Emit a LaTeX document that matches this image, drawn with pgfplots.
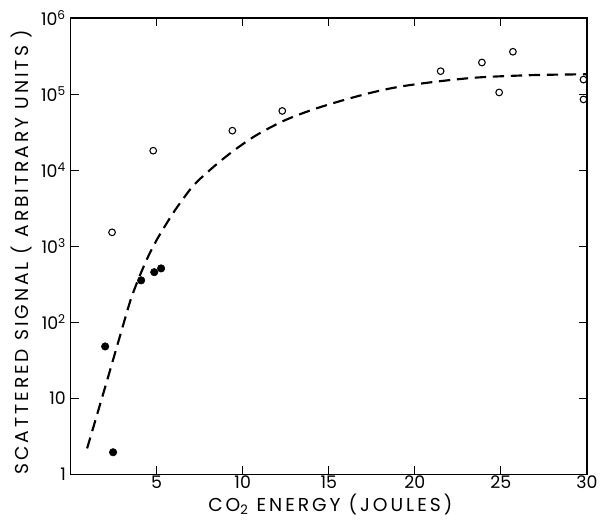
\documentclass[border=0pt]{standalone}
\usepackage{fontspec}
\setmainfont{Poppins}
\newfontfamily\labfont[LetterSpace=16]{Poppins}
\usepackage{pgfplots}
\pgfplotsset{compat=1.18}

\begin{document}
\begin{tikzpicture}
% page frame: the axis box sits at the origin
\useasboundingbox (-52.9pt,-34.5pt) rectangle (396.8pt,355.5pt);
\begin{axis}[
  scale only axis,
  width=387pt, height=342pt,
  ymode=log,
  xmin=0, xmax=30, ymin=1, ymax=1e6,
  xtick={5,10,15,20,25,30},
  ytick={1,10,100,1000,10000,100000,1000000},
  yticklabels={1,10,10\textsuperscript{2},10\textsuperscript{3},10\textsuperscript{4},10\textsuperscript{5},10\textsuperscript{6}},
  yminorticks=false,
  tick align=inside,
  major tick length=6pt,
  axis line style={line width=0.9pt},
  every tick/.style={black, line width=0.8pt},
  /pgf/number format/assume math mode=true,
  tick label style={font=\fontsize{13}{15}\selectfont},
  xticklabel style={inner sep=1pt},
  label style={font=\labfont\fontsize{14}{16}\selectfont},
  xlabel={CO\textsubscript{2} ENERGY (JOULES)},
  ylabel={SCATTERED SIGNAL ( ARBITRARY UNITS )},
  xlabel style={at={(axis description cs:0.503,0)}, anchor=base, yshift=-28pt, inner sep=1pt},
  ylabel style={at={(axis description cs:-0.0956,0.487)}, anchor=center},
  clip=false,
]
% fitted curve
\addplot[black, line width=1.6pt, dash pattern=on 8.5pt off 5pt, smooth, tension=0.5] coordinates {
  (0.96,2.19) (2.0,13.8) (3.0,83) (3.5,200) (4.0,398) (4.5,724)
  (5.0,1202) (5.5,1862) (6.0,2818) (6.5,4074) (7.0,5754) (7.5,7586)
  (8.5,12023) (9.5,18197) (10.8,28840) (12.4,44668) (14.0,61660)
  (15.7,81283) (17.5,104713) (19.2,125893) (21.5,147911) (23.8,165959)
  (27.0,177828) (30,181970)
};
% open circles
\addplot[only marks, mark=o, mark size=2.5pt, mark options={line width=0.8pt}] coordinates {
  (2.41,1520) (4.8,18000) (9.4,33000) (12.3,60000) (21.5,200000)
  (23.9,260000) (25.7,360000) (24.9,105000) (29.8,155000) (29.8,85000)
};
% filled circles
\addplot[only marks, mark=*, mark size=2.8pt] coordinates {
  (2.01,48) (2.47,1.95) (4.1,355) (4.86,455) (5.26,510)
};
\end{axis}
\end{tikzpicture}
\end{document}
